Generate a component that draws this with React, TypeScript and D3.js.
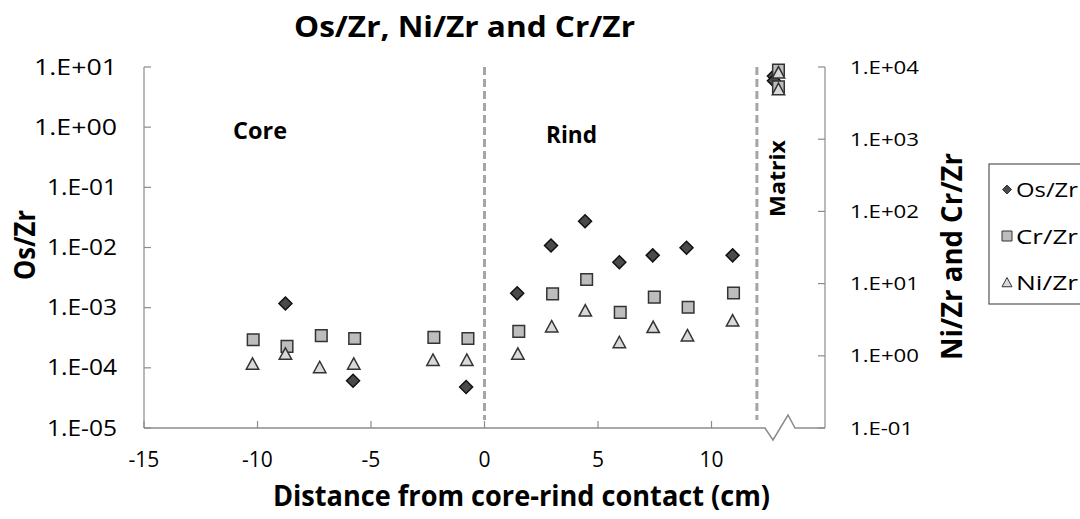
import React from "react";
import * as d3 from "d3";

const osX = [-8.77, -5.79, -0.81, 1.44, 2.93, 4.43, 5.94, 7.41, 8.9, 10.93, 12.75, 12.75];
const osY = [1.17e-3, 6.1e-5, 4.8e-5, 1.73e-3, 1.08e-2, 2.73e-2, 5.7e-3, 7.4e-3, 9.9e-3, 7.4e-3, 7.1, 5.9];

const crX = [-10.19, -8.7, -7.19, -5.72, -2.23, -0.73, 1.51, 3.0, 4.5, 5.98, 7.48, 8.97, 10.97, 12.95, 12.95];
const crY = [1.67, 1.35, 1.9, 1.74, 1.8, 1.74, 2.18, 7.2, 11.4, 4.0, 6.5, 4.7, 7.4, 9100, 5300];

const niX = [-10.22, -8.77, -7.26, -5.76, -2.27, -0.78, 1.47, 2.96, 4.44, 5.94, 7.43, 8.94, 10.93, 12.95, 12.95];
const niY = [0.77, 1.06, 0.69, 0.77, 0.87, 0.87, 1.06, 2.53, 4.2, 1.53, 2.48, 1.9, 3.06, 8300, 4900];

const xTicks = [-15, -10, -5, 0, 5, 10];
const leftTicks = [1e1, 1e0, 1e-1, 1e-2, 1e-3, 1e-4, 1e-5];
const leftTickLabels = ["1.E+01", "1.E+00", "1.E-01", "1.E-02", "1.E-03", "1.E-04", "1.E-05"];
const rightTicks = [1e4, 1e3, 1e2, 1e1, 1e0, 1e-1];
const rightTickLabels = ["1.E+04", "1.E+03", "1.E+02", "1.E+01", "1.E+00", "1.E-01"];
const boundaries = [0, 12];
const legendItems = ["Os/Zr", "Cr/Zr", "Ni/Zr"];

const FONT = "'Open Sans', 'Noto Sans', sans-serif";

export default function App() {
  const x = d3.scaleLinear().domain([-15, 15]).range([144, 825]);
  const yL = d3.scaleLog().domain([1e-5, 10]).range([428, 67]);
  const yR = d3.scaleLog().domain([0.1, 1e4]).range([428, 67]);
  const axisY = 428;
  const axisColor = "#8c8c8c";

  const diamond = (cx: number, cy: number, r: number) =>
    `M${cx},${cy - r}L${cx + r},${cy}L${cx},${cy + r}L${cx - r},${cy}Z`;
  const square = (cx: number, cy: number, h: number) =>
    `M${cx - h},${cy - h}H${cx + h}V${cy + h}H${cx - h}Z`;
  const tri = (cx: number, cy: number, h: number) =>
    `M${cx},${cy - h}L${cx + h},${cy + h * 0.85}L${cx - h},${cy + h * 0.85}Z`;

  const zig = `M144,${axisY}H765L773,440L788,415L795,${axisY}H825`;
  const adj = "spacingAndGlyphs";

  return (
    <svg
      width={1080}
      height={519}
      style={{ position: "absolute", left: 0, top: 0, background: "#fff" }}
      fontFamily={FONT}
    >
      <rect width={1080} height={519} fill="#fff" />
      {/* title */}
      <text x={294} y={37} fontSize={28} fontWeight="bold" fill="#000" textLength={341} lengthAdjust={adj}>
        Os/Zr, Ni/Zr and Cr/Zr
      </text>

      {/* dashed boundaries */}
      {boundaries.map((b) => (
        <line
          key={b}
          x1={x(b)}
          x2={x(b)}
          y1={67}
          y2={420}
          stroke="#a6a6a6"
          strokeWidth={3}
          strokeDasharray="8,4"
        />
      ))}

      {/* axes */}
      <line x1={144} x2={144} y1={67} y2={axisY} stroke={axisColor} strokeWidth={1.2} />
      <line x1={825} x2={825} y1={67} y2={axisY} stroke={axisColor} strokeWidth={1.2} />
      <path d={zig} fill="none" stroke={axisColor} strokeWidth={1.5} />
      {leftTicks.map((t, i) => (
        <g key={"l" + i}>
          <line x1={144} x2={151} y1={yL(t)} y2={yL(t)} stroke={axisColor} strokeWidth={1.2} />
          <text
            x={117}
            y={yL(t) + 7.5}
            textAnchor="end"
            fontSize={21}
            fill="#000"
            textLength={leftTickLabels[i].includes("+") ? 83 : 70}
            lengthAdjust={adj}
          >
            {leftTickLabels[i]}
          </text>
        </g>
      ))}
      {rightTicks.map((t, i) => (
        <g key={"r" + i}>
          <line x1={818} x2={825} y1={yR(t)} y2={yR(t)} stroke={axisColor} strokeWidth={1.2} />
          <text
            x={850}
            y={yR(t) + 6.5}
            textAnchor="start"
            fontSize={18}
            fill="#000"
            textLength={rightTickLabels[i].includes("+") ? 69 : 63}
            lengthAdjust={adj}
          >
            {rightTickLabels[i]}
          </text>
        </g>
      ))}
      {xTicks.map((t) => (
        <g key={"x" + t}>
          <line x1={x(t)} x2={x(t)} y1={axisY - 7} y2={axisY} stroke={axisColor} strokeWidth={1.2} />
          <text x={x(t)} y={467} textAnchor="middle" fontSize={21} fill="#000">
            {t}
          </text>
        </g>
      ))}

      {/* axis titles */}
      <text x={273} y={506} fontSize={28} fontWeight="bold" fill="#000" textLength={497} lengthAdjust={adj}>
        Distance from core-rind contact (cm)
      </text>
      <text
        transform={`translate(35,245) rotate(-90)`}
        textAnchor="middle"
        fontSize={29}
        fontWeight="bold"
        fill="#000"
        textLength={70}
        lengthAdjust={adj}
      >
        Os/Zr
      </text>
      <text
        transform={`translate(962,256.5) rotate(-90)`}
        textAnchor="middle"
        fontSize={28}
        fontWeight="bold"
        fill="#000"
        textLength={207}
        lengthAdjust={adj}
      >
        Ni/Zr and Cr/Zr
      </text>

      {/* region labels */}
      <text x={233} y={139} fontSize={24} fontWeight="bold" fill="#000" textLength={54} lengthAdjust={adj}>
        Core
      </text>
      <text x={546} y={142.5} fontSize={24} fontWeight="bold" fill="#000" textLength={51} lengthAdjust={adj}>
        Rind
      </text>
      <text
        transform={`translate(785,178.5) rotate(-90)`}
        textAnchor="middle"
        fontSize={21}
        fontWeight="bold"
        fill="#000"
        textLength={77}
        lengthAdjust={adj}
      >
        Matrix
      </text>

      {/* data */}
      {osX.map((v, i) => (
        <path key={"o" + i} d={diamond(x(v), yL(osY[i]), 6.5)} fill="#4a4a4a" stroke="#111" strokeWidth={1.5} />
      ))}
      {crX.map((v, i) => (
        <path key={"c" + i} d={square(x(v), yR(crY[i]), 5.8)} fill="#bdbdbd" stroke="#333" strokeWidth={1.5} />
      ))}
      {niX.map((v, i) => (
        <path key={"n" + i} d={tri(x(v), yR(niY[i]), 6.2)} fill="#d9d9d9" stroke="#333" strokeWidth={1.5} />
      ))}

      {/* legend */}
      <rect x={989} y={164} width={95} height={140} fill="#fff" stroke="#555" strokeWidth={1.2} />
      {legendItems.map((name, i) => {
        const baseY = 197 + i * 46.5;
        const cy = baseY - 7.5;
        const cx = 1007;
        let mark;
        if (i === 0) mark = <path d={diamond(cx, cy, 4.5)} fill="#4a4a4a" stroke="#333" strokeWidth={1} />;
        else if (i === 1) mark = <path d={square(cx, cy, 5)} fill="#bdbdbd" stroke="#333" strokeWidth={1} />;
        else mark = <path d={tri(cx, cy, 5)} fill="#d9d9d9" stroke="#333" strokeWidth={1} />;
        return (
          <g key={name}>
            {mark}
            <text x={1016} y={baseY} fontSize={20} fill="#000" textLength={62} lengthAdjust={adj}>
              {name}
            </text>
          </g>
        );
      })}
    </svg>
  );
}
